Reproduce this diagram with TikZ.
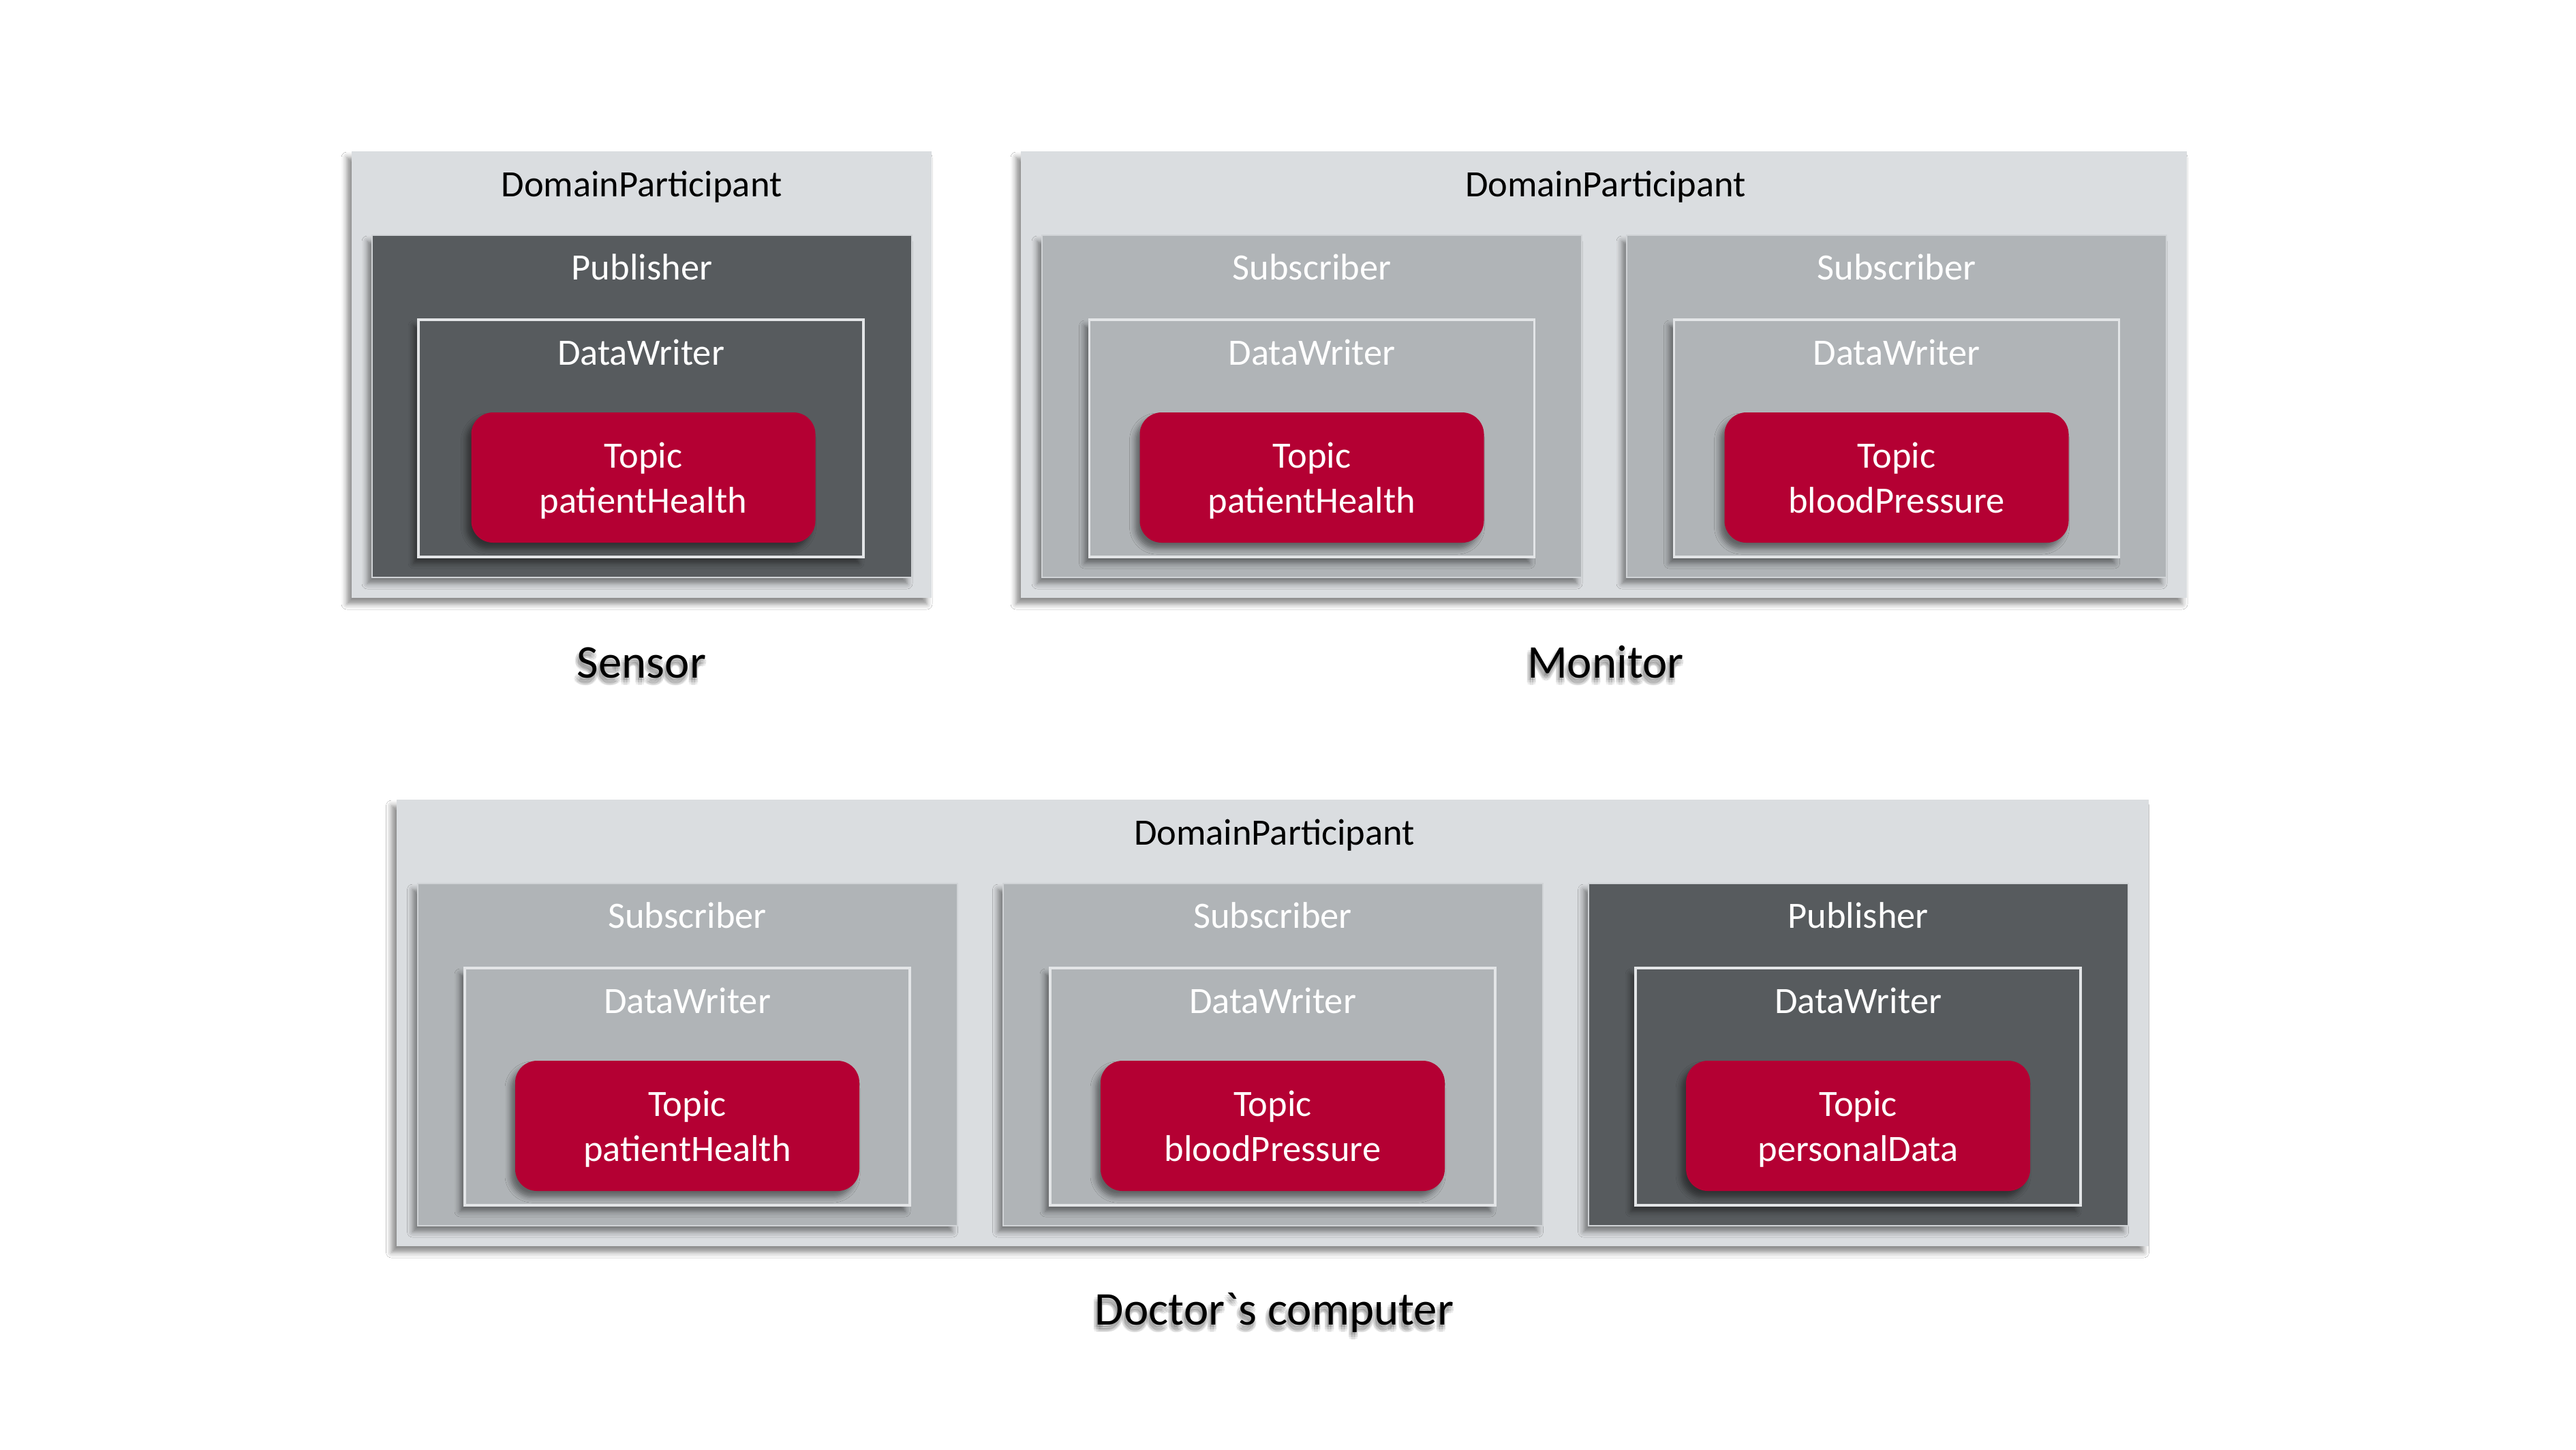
\documentclass[tikz,border=0pt]{standalone}
\usepackage{fontspec}
\setmainfont{Carlito}[Ligatures=TeXOff]
\usetikzlibrary{shadows.blur}
\definecolor{dpgray}{HTML}{DADDE0}
\definecolor{pubgray}{HTML}{575B5E}
\definecolor{subgray}{HTML}{B0B4B7}
\definecolor{topicred}{HTML}{B40033}
\definecolor{dwline}{HTML}{E3E5E7}
\definecolor{edgeline}{HTML}{D0D3D6}
\tikzset{
  boxshadow/.style={blur shadow={shadow xshift=-0.07cm, shadow yshift=-0.09cm, shadow blur radius=0.08cm, shadow opacity=45}},
  dpbox/.style={rectangle, boxshadow, fill=dpgray, inner sep=0pt, minimum height=6.55cm},
  pubbox/.style={rectangle, boxshadow, fill=pubgray, draw=edgeline, line width=0.02cm, inner sep=0pt, minimum width=7.92cm, minimum height=5.02cm},
  subbox/.style={rectangle, boxshadow, fill=subgray, draw=edgeline, line width=0.02cm, inner sep=0pt, minimum width=7.92cm, minimum height=5.02cm},
  dwbox/.style={rectangle, boxshadow, draw=dwline, line width=0.035cm, inner sep=0pt, minimum width=6.53cm, minimum height=3.48cm},
  pubdw/.style={dwbox, fill=pubgray},
  subdw/.style={dwbox, fill=subgray},
  topicbox/.style={rectangle, rounded corners=0.32cm, boxshadow, fill=topicred, inner sep=0pt, minimum width=5.05cm, minimum height=1.91cm, text=white, align=center, font=\fontsize{15.5}{18.8}\selectfont},
  dplbl/.style={anchor=base, inner sep=0pt, text=black, font=\fontsize{15.5}{18.8}\selectfont},
  whitelbl/.style={anchor=base, inner sep=0pt, text=white, font=\fontsize{15.5}{18.8}\selectfont},
  biglbl/.style={anchor=base, inner sep=0pt, text=black, font=\fontsize{19.6}{23}\selectfont},
  glowlbl/.style={biglbl, text=black, opacity=0.07}
}
\newcommand{\glowtext}[2]{%
  \foreach \dx/\dy in {-0.02/0.07,-0.06/0.07,0.02/0.07,-0.02/0.03,-0.02/0.11,-0.05/0.04,0.01/0.04,-0.05/0.10,0.01/0.10}{%
    \node[glowlbl] at ([xshift=\dx cm, yshift=-\dy cm]#1) {#2};}%
}
\begin{document}
\begin{tikzpicture}[y=-1cm]
\useasboundingbox (0,0) rectangle (37.8,21.26);
\fill[white] (0,0) rectangle (37.8,21.26);

% ---------- Sensor ----------
\node[dpbox, minimum width=8.51cm] (sdp) at (9.415,5.495) {};
\node[pubbox] (spub) at (9.42,5.96) {};
\node[pubdw] (sdw) at (9.405,6.43) {};
\node[topicbox] (stopic) at (9.44,7.005) {Topic\\\smash{patientHealth}};
\node[dplbl] (sdpl) at (9.415,2.885) {DomainParticipant};
\node[whitelbl] (spubl) at (9.42,4.105) {Publisher};
\node[whitelbl] (sdwl) at (9.405,5.35) {DataWriter};

% ---------- Monitor ----------
\node[dpbox, minimum width=17.11cm] (mdp) at (23.535,5.495) {};
\node[subbox] (msub1) at (19.25,5.96) {};
\node[subbox] (msub2) at (27.83,5.96) {};
\node[subdw] (mdw1) at (19.25,6.43) {};
\node[subdw] (mdw2) at (27.83,6.43) {};
\node[topicbox] (mtopic1) at (19.25,7.005) {Topic\\\smash{patientHealth}};
\node[topicbox] (mtopic2) at (27.83,7.005) {Topic\\\smash{bloodPressure}};
\node[dplbl] (mdpl) at (23.56,2.885) {DomainParticipant};
\node[whitelbl] (msub1l) at (19.25,4.105) {Subscriber};
\node[whitelbl] (msub2l) at (27.83,4.105) {Subscriber};
\node[whitelbl] (mdw1l) at (19.25,5.35) {DataWriter};
\node[whitelbl] (mdw2l) at (27.83,5.35) {DataWriter};

% ---------- Doctor's computer ----------
\node[dpbox, minimum width=25.71cm] (ddp) at (18.67,15.005) {};
\node[subbox] (dsub1) at (10.085,15.47) {};
\node[subbox] (dsub2) at (18.675,15.47) {};
\node[pubbox] (dpub) at (27.266,15.47) {};
\node[subdw] (ddw1) at (10.085,15.94) {};
\node[subdw] (ddw2) at (18.675,15.94) {};
\node[pubdw] (ddw3) at (27.266,15.94) {};
\node[topicbox] (dtopic1) at (10.085,16.515) {Topic\\\smash{patientHealth}};
\node[topicbox] (dtopic2) at (18.675,16.515) {Topic\\\smash{bloodPressure}};
\node[topicbox] (dtopic3) at (27.266,16.515) {Topic\\\smash{personalData}};
\node[dplbl] (ddpl) at (18.70,12.395) {DomainParticipant};
\node[whitelbl] (dsub1l) at (10.085,13.615) {Subscriber};
\node[whitelbl] (dsub2l) at (18.675,13.615) {Subscriber};
\node[whitelbl] (dpubl) at (27.266,13.615) {Publisher};
\node[whitelbl] (ddw1l) at (10.085,14.86) {DataWriter};
\node[whitelbl] (ddw2l) at (18.675,14.86) {DataWriter};
\node[whitelbl] (ddw3l) at (27.266,14.86) {DataWriter};

% ---------- captions ----------
\coordinate (capS) at (9.415,9.94);
\coordinate (capM) at (23.56,9.94);
\coordinate (capD) at (18.70,19.43);
\glowtext{capS}{Sensor}
\glowtext{capM}{Monitor}
\glowtext{capD}{Doctor`s computer}
\node[biglbl] (capSl) at (capS) {Sensor};
\node[biglbl] (capMl) at (capM) {Monitor};
\node[biglbl] (capDl) at (capD) {Doctor`s computer};
\end{tikzpicture}
\end{document}
